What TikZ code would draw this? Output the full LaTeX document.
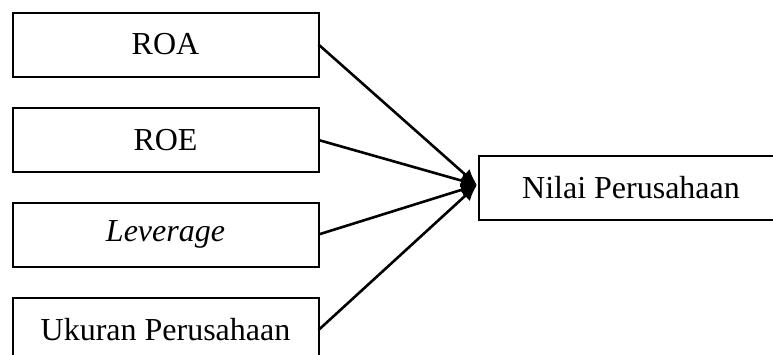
\documentclass[tikz,border=0pt]{standalone}
\usepackage{fontspec}
\setmainfont{Liberation Serif}
\usetikzlibrary{arrows.meta}
\begin{document}
\begin{tikzpicture}[x=1pt,y=-1pt,
  box/.style={draw=black,line width=2pt,minimum width=306pt,minimum height=64pt,inner sep=0pt,outer sep=0pt,font=\fontsize{32}{38}\selectfont},
  link/.style={line width=2.6pt,-{Latex[length=16pt,width=14pt]}}]
\clip (0,0) rectangle (773,354);
\fill[white] (0,0) rectangle (773,354);
\node[box] (roa) at (165.5,44.5) {ROA};
\node[box] (roe) at (165.5,140) {ROE};
\node[box] (lev) at (165.5,234.5) {\itshape Leverage};
\node[box] (uk) at (165.5,330) {Ukuran Perusahaan};
\node[box,minimum width=304pt] (nilai) at (631,188) {Nilai Perusahaan};
\coordinate (t) at (477,185);
\draw[link] (roa.east) -- (t);
\draw[link] (roe.east) -- (t);
\draw[link] (lev.east) -- (t);
\draw[link] (uk.east) -- (t);
\end{tikzpicture}
\end{document}
